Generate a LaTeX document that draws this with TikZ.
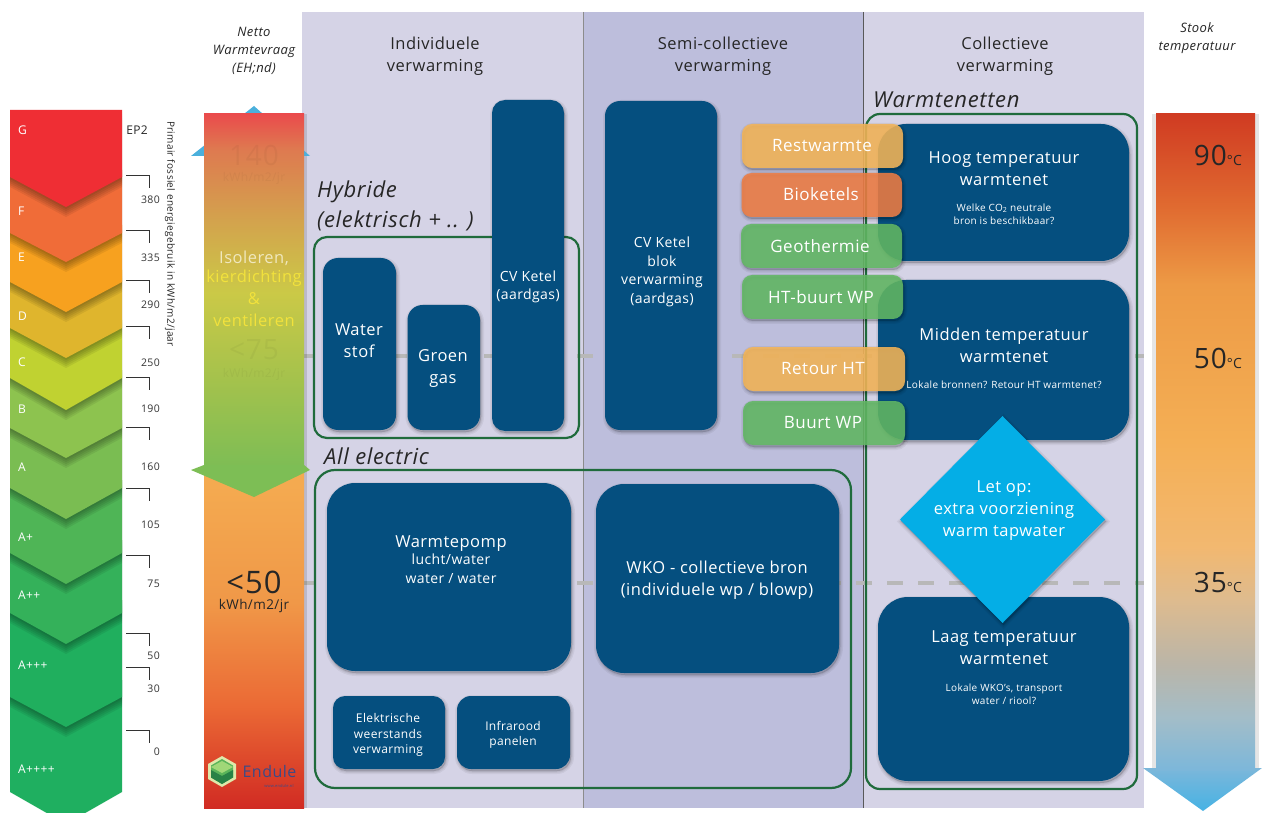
\documentclass[tikz,border=0pt]{standalone}
\usepackage{fontspec}
\setmainfont[LetterSpace=3]{Open Sans}
\definecolor{navy}{HTML}{054F7F}
\definecolor{panelA}{HTML}{D5D3E6}
\definecolor{panelB}{HTML}{BDBEDC}
\definecolor{frameG}{HTML}{1F6B3C}
\definecolor{skyB}{HTML}{04AEE6}
\definecolor{amberP}{HTML}{F4B558}
\definecolor{orangeP}{HTML}{EE7D44}
\definecolor{greenP}{HTML}{62B864}
\definecolor{yellowT}{HTML}{F2E23C}
\definecolor{cG}{HTML}{EF2E34}\definecolor{cF}{HTML}{F06C38}\definecolor{cE}{HTML}{F7A11F}
\definecolor{cD}{HTML}{DFB52D}\definecolor{cC}{HTML}{C0D231}\definecolor{cB}{HTML}{8DC34F}
\definecolor{cA}{HTML}{7ABD52}\definecolor{cAa}{HTML}{4FB556}\definecolor{cAb}{HTML}{34B15A}
\definecolor{cAc}{HTML}{20AF5E}\definecolor{cAd}{HTML}{1FAF60}
\definecolor{logoA}{RGB}{222,232,170}
\definecolor{logoB}{RGB}{90,180,90}
\definecolor{logoC}{RGB}{40,130,70}
\definecolor{logoD}{RGB}{160,215,120}
\definecolor{logoT}{RGB}{60,75,135}
\definecolor{arrowB}{RGB}{74,176,220}
\definecolor{arrowG}{RGB}{125,190,85}
\definecolor{isoW}{RGB}{240,232,190}
\definecolor{tipA}{RGB}{124,183,218}
\definecolor{tipB}{RGB}{70,178,228}
\pgfdeclareverticalshading{midupper}{100bp}{
 color(0bp)=(rgb,255:red,124;green,189;blue,85);
 color(25bp)=(rgb,255:red,124;green,189;blue,85);
 color(38bp)=(rgb,255:red,165;green,194;blue,76);
 color(50bp)=(rgb,255:red,203;green,201;blue,71);
 color(60bp)=(rgb,255:red,211;green,163;blue,77);
 color(70bp)=(rgb,255:red,222;green,122;blue,80);
 color(75bp)=(rgb,255:red,234;green,75;blue,76);
 color(100bp)=(rgb,255:red,234;green,75;blue,76)}
\pgfdeclareverticalshading{midlower}{100bp}{
 color(0bp)=(rgb,255:red,209;green,43;blue,35);
 color(25bp)=(rgb,255:red,209;green,43;blue,35);
 color(40bp)=(rgb,255:red,235;green,106;blue,53);
 color(55bp)=(rgb,255:red,240;green,152;blue,72);
 color(72bp)=(rgb,255:red,244;green,170;blue,80);
 color(100bp)=(rgb,255:red,244;green,170;blue,80)}
\pgfdeclareverticalshading{rightbar}{100bp}{
 color(0bp)=(rgb,255:red,124;green,183;blue,218);
 color(25bp)=(rgb,255:red,124;green,183;blue,218);
 color(29bp)=(rgb,255:red,163;green,189;blue,200);
 color(33bp)=(rgb,255:red,186;green,181;blue,168);
 color(38bp)=(rgb,255:red,222;green,187;blue,142);
 color(42bp)=(rgb,255:red,242;green,184;blue,112);
 color(50bp)=(rgb,255:red,244;green,175;blue,85);
 color(62bp)=(rgb,255:red,237;green,154;blue,69);
 color(68bp)=(rgb,255:red,224;green,106;blue,48);
 color(75bp)=(rgb,255:red,208;green,59;blue,34);
 color(100bp)=(rgb,255:red,208;green,59;blue,34)}
\tikzset{
  x=1pt,y=-1pt,
  sh1/.style={draw=black,fill=black,draw opacity=.05,fill opacity=.05,line width=6pt,xshift=1pt,yshift=-2pt},
  sh2/.style={draw=black,fill=black,draw opacity=.05,fill opacity=.05,line width=3.5pt,xshift=1pt,yshift=-2pt},
  sh3/.style={draw=black,fill=black,draw opacity=.05,fill opacity=.05,line width=1.5pt,xshift=1pt,yshift=-2pt},
  navybox/.style={fill=navy},
  boxtext/.style={text=white,align=center,inner sep=0pt,font=\fontsize{16.5}{22}\selectfont},
  boxsmall/.style={text=white,align=center,inner sep=0pt,font=\fontsize{14}{18.6}\selectfont},
  boxtiny/.style={text=white,align=center,inner sep=0pt,font=\fontsize{12}{15.5}\selectfont},
  boxnote/.style={text=white,align=center,inner sep=0pt,font=\fontsize{10}{13}\selectfont},
  groupframe/.style={draw=frameG,line width=2.2pt},
  pilltext/.style={text=white,inner sep=0pt,font=\fontsize{17}{18}\selectfont},
  hdr/.style={align=center,inner sep=0pt,font=\fontsize{16.5}{22}\selectfont,text=black!85},
  sidehdr/.style={align=center,inner sep=0pt,font=\itshape\fontsize{13}{18}\selectfont,text=black!85},
  grp/.style={font=\itshape\fontsize{22}{27}\selectfont,anchor=west,inner sep=0pt,text=black!85},
  lett/.style={text=white,anchor=west,inner sep=0pt,font=\fontsize{12}{14}\selectfont},
  epnum/.style={anchor=east,inner sep=0pt,font=\fontsize{10.5}{13}\selectfont,text=black!80},
  tickline/.style={draw=black!80,line width=.9pt},
  faint/.style={text=black,text opacity=.04,inner sep=0pt},
  temp/.style={inner sep=0pt,text=black!85,font=\fontsize{28}{30}\selectfont},
  isol/.style={inner sep=0pt,font=\fontsize{16.5}{18}\selectfont},
  dashline/.style={draw=black!28,line width=4pt,dash pattern=on 15.5pt off 15.5pt}
}
\newcommand{\softrect}[5]{%
  \path[sh1,rounded corners=#5pt] (#1,#2) rectangle (#3,#4);
  \path[sh2,rounded corners=#5pt] (#1,#2) rectangle (#3,#4);
  \path[sh3,rounded corners=#5pt] (#1,#2) rectangle (#3,#4);}
\newcommand{\bx}[5]{\softrect{#1}{#2}{#3}{#4}{#5}\path[navybox,rounded corners=#5pt] (#1,#2) rectangle (#3,#4);}
\newcommand{\pill}[5]{\softrect{#1}{#2}{#3}{#4}{10}\path[fill=#5,fill opacity=.88,rounded corners=10pt] (#1,#2) rectangle (#3,#4);}
\newcommand{\chev}[4]{%
  \begin{scope}
    \clip (10,#1) rectangle (122,#3+12);
    \foreach \dd in {2,4,6,8,10} {\fill[black,opacity=.07,yshift=-\dd pt] (10,#1) -- (122,#1) -- (122,#2) -- (66,#3) -- (10,#2) -- cycle;}
  \end{scope}
  \path[fill=#4] (10,#1) -- (122,#1) -- (122,#2) -- (66,#3) -- (10,#2) -- cycle;}
\newcommand{\tickmark}[1]{\draw[tickline] (126,#1) -- (149,#1) -- (149,#1+13);}
\begin{document}
\begin{tikzpicture}
\useasboundingbox (0,0) rectangle (1262,813);
\fill[white] (0,0) rectangle (1262,813);
% panels
\fill[panelA] (302,12) rectangle (583,808);
\fill[panelB] (583,12) rectangle (863,808);
\fill[panelA] (863,12) rectangle (1144,808);
\draw[black!45,line width=.8pt] (583,12) -- (583,808);
\draw[black!65,line width=.8pt] (863,12) -- (863,808);
% dashed level lines
\coordinate (dashLa) at (298,356); \coordinate (dashLb) at (1144,356);
\coordinate (dashMa) at (298,583); \coordinate (dashMb) at (1144,583);
\draw[dashline] (dashLa) -- (dashLb);
\draw[dashline] (dashMa) -- (dashMb);
% headers
\node[hdr] (h1) at (435,56) {Individuele\\verwarming};
\node[hdr] (h2) at (723,56) {Semi-collectieve\\verwarming};
\node[hdr] (h3) at (1005,56) {Collectieve\\verwarming};
\node[sidehdr] (h0) at (254,51) {Netto\\Warmtevraag\\(EH;nd)};
\node[sidehdr] (h4) at (1197,38) {Stook\\temperatuur};
% energy labels, bottom to top
\path[fill=cAd] (10,680) -- (122,680) -- (122,792) -- (66,824) -- (10,792) -- cycle;
\chev{600}{697}{727}{cAc}
\chev{540}{613}{644}{cAb}
\chev{480}{553}{584}{cAa}
\chev{420}{488}{519}{cA}
\chev{370}{428}{458}{cB}
\chev{320}{378}{410}{cC}
\chev{270}{328}{358}{cD}
\chev{225}{282}{312}{cE}
\chev{170}{233}{262}{cF}
\chev{110}{177}{207}{cG}
\node[lett] (lG) at (18,130) {G};
\node[lett] (lF) at (18,211) {F};
\node[lett] (lE) at (18,257) {E};
\node[lett] (lD) at (18,316) {D};
\node[lett] (lC) at (18,362) {C};
\node[lett] (lB) at (18,409) {B};
\node[lett] (lA) at (18,467) {A};
\node[lett] (lAa) at (18,537) {A+};
\node[lett] (lAb) at (18,595) {A++};
\node[lett] (lAc) at (18,665) {A+++};
\node[lett] (lAd) at (18,769) {A++++};
% EP2 scale
\foreach \yy in {175,230,280,326,377,427,488,555,633,667,730} {\tickmark{\yy}}
\node[inner sep=0pt,text=black!85,font=\fontsize{12}{14}\selectfont] (ep) at (137,130) {EP2};
\node[epnum] (n380) at (160,200) {380};
\node[epnum] (n335) at (160,258) {335};
\node[epnum] (n290) at (160,305) {290};
\node[epnum] (n250) at (160,363) {250};
\node[epnum] (n190) at (160,409) {190};
\node[epnum] (n160) at (160,467) {160};
\node[epnum] (n105) at (160,525) {105};
\node[epnum] (n75) at (160,584) {75};
\node[epnum] (n50) at (160,656) {50};
\node[epnum] (n30) at (160,689) {30};
\node[epnum] (n0) at (160,752) {0};
\node[inner sep=0pt,rotate=-90,text=black!85,font=\fontsize{10}{12}\selectfont] (eplabel) at (170,234) {Primair fossiel energiegebruik in kWh/m2/jaar};
% middle bar
\fill[fill=black,fill opacity=.12] (302,114) rectangle (307,808);
\fill[arrowB] (254,106) -- (310,156) -- (191,156) -- cycle;
\shade[shading=midlower] (204,465) rectangle (304,808);
\shade[shading=midupper] (204,114) rectangle (304,470);
\path[fill=arrowG] (204,465) -- (304,465) -- (310,470) -- (254,497) -- (191,470) -- cycle;
\node[faint,font=\fontsize{28}{30}\selectfont] (f140) at (254,155) {140};
\node[faint,font=\fontsize{12}{13}\selectfont] (f140u) at (254,178) {kWh/m2/jr};
\node[faint,font=\fontsize{28}{30}\selectfont] (f75) at (254,350) {<75};
\node[faint,font=\fontsize{12}{13}\selectfont] (f75u) at (254,374) {kWh/m2/jr};
\node[isol,text=isoW] (iso1) at (254,258) {Isoleren,};
\node[isol,text=yellowT] (iso2) at (254,278) {kierdichting};
\node[isol,text=yellowT] (iso3) at (254,299) {\&};
\node[isol,text=yellowT] (iso4) at (254,320) {ventileren};
\node[inner sep=0pt,text=black!85,font=\fontsize{31}{33}\selectfont] (m50) at (254,582) {<50};
\node[inner sep=0pt,text=black!85,font=\fontsize{13.5}{15}\selectfont] (m50u) at (254,606) {kWh/m2/jr};
% logo
\fill[logoA] (222,756) -- (236,764) -- (236,779) -- (222,787) -- (208,779) -- (208,764) -- cycle;
\fill[logoB] (222,759) -- (233,765.5) -- (233,777.5) -- (222,784) -- (211,777.5) -- (211,765.5) -- cycle;
\fill[logoC] (211,770) -- (222,776) -- (233,770) -- (233,777.5) -- (222,784) -- (211,777.5) -- cycle;
\fill[logoD] (211,767) -- (222,761) -- (233,767) -- (222,773) -- cycle;
\node[inner sep=0pt,text=logoT,font=\fontsize{16}{18}\selectfont] (logo) at (269.5,771) {Endule};
\node[inner sep=0pt,text=logoT,font=\fontsize{4}{5}\selectfont] (logou) at (279,786) {www.endule.nl};
% right bar
\fill[black!10] (1152,114) rectangle (1259,770);
\shade[top color=tipA,bottom color=tipB] (1143,768) -- (1262,768) -- (1203,811) -- cycle;
\shade[shading=rightbar] (1156,114) rectangle (1255,770);
\node[temp] (t90) at (1218,155) {90{\fontsize{14}{15}\selectfont°C}};
\node[temp] (t50) at (1218,358) {50{\fontsize{14}{15}\selectfont°C}};
\node[temp] (t35) at (1218,582) {35{\fontsize{14}{15}\selectfont°C}};
% group frames
\draw[groupframe,rounded corners=13pt] (314,237) rectangle (579,438);
\draw[groupframe,rounded corners=20pt] (315,470) rectangle (851,788);
\draw[groupframe,rounded corners=14pt] (866,114) rectangle (1137,789);
\node[grp] (gH1) at (317,192) {Hybride};
\node[grp] (gH2) at (317,221) {(elektrisch + .. )};
\node[grp] (gAE) at (324,456) {All electric};
\node[grp] (gWN) at (873,100) {Warmtenetten};
% boxes
\bx{323}{258}{396}{430}{15}
\bx{407.5}{305}{480}{430}{15}
\bx{492}{100}{564}{431}{13}
\bx{605}{101}{717}{430}{15}
\bx{327}{483}{571}{671}{28}
\bx{596}{484}{839}{673}{28}
\bx{333}{696}{445}{769}{12}
\bx{457}{696}{570}{769}{14}
\bx{878}{124}{1129}{261}{28}
\bx{878}{280}{1129}{440}{28}
\bx{878}{597}{1129}{781}{30}
\node[boxtext] (tW) at (359,341) {Water\\stof};
\node[boxtext] (tG) at (443,369) {Groen\\gas};
\node[boxsmall] (tCV) at (528,287) {CV Ketel\\(aardgas)};
\node[boxsmall] (tCVb) at (662,272) {CV Ketel\\blok\\verwarming\\(aardgas)};
\node[boxtext] (tWP) at (451,544) {Warmtepomp};
\node[boxsmall] (tWPb) at (451,569) {lucht/water\\water / water};
\node[boxtext] (tWKO) at (717,580) {WKO - collectieve bron\\(individuele wp / blowp)};
\node[boxtiny] (tEl) at (388,735) {Elektrische\\weerstands\\verwarming};
\node[boxtiny] (tIR) at (513,735) {Infrarood\\panelen};
\node[boxtext] (tH) at (1004,168.5) {Hoog temperatuur\\warmtenet};
\node[boxnote] (tHn) at (1004,214) {Welke CO\textsubscript{2} neutrale\\bron is beschikbaar?};
\node[boxtext] (tM) at (1004,345) {Midden temperatuur\\warmtenet};
\node[boxnote] (tMn) at (1004,385) {Lokale bronnen? Retour HT warmtenet?};
\node[boxtext] (tL) at (1004,648) {Laag temperatuur\\warmtenet};
\node[boxnote] (tLn) at (1004,694) {Lokale WKO's, transport\\water / riool?};
% diamond
\path[sh1] (1002.5,416) -- (1105,519.5) -- (1002.5,623) -- (900,519.5) -- cycle;
\path[sh2] (1002.5,416) -- (1105,519.5) -- (1002.5,623) -- (900,519.5) -- cycle;
\path[sh3] (1002.5,416) -- (1105,519.5) -- (1002.5,623) -- (900,519.5) -- cycle;
\path[fill=skyB] (1002.5,416) -- (1105,519.5) -- (1002.5,623) -- (900,519.5) -- cycle;
\node[boxtext] (tLet) at (1004,511) {Let op:\\extra voorziening\\warm tapwater};
% source pills
\pill{742}{124}{903}{168}{amberP}
\pill{741.5}{173}{902}{217}{orangeP}
\pill{741}{224}{902}{268}{greenP}
\pill{742}{275}{903}{319}{greenP}
\pill{743}{347}{905}{391}{amberP}
\pill{743}{401}{905}{445}{greenP}
\node[pilltext] (pR) at (822,146) {Restwarmte};
\node[pilltext] (pB) at (821,194.5) {Bioketels};
\node[pilltext] (pGe) at (820,246.5) {Geothermie};
\node[pilltext] (pHT) at (821,297.5) {HT-buurt WP};
\node[pilltext] (pRe) at (823,368.5) {Retour HT};
\node[pilltext] (pBu) at (823,422.5) {Buurt WP};
\end{tikzpicture}
\end{document}
